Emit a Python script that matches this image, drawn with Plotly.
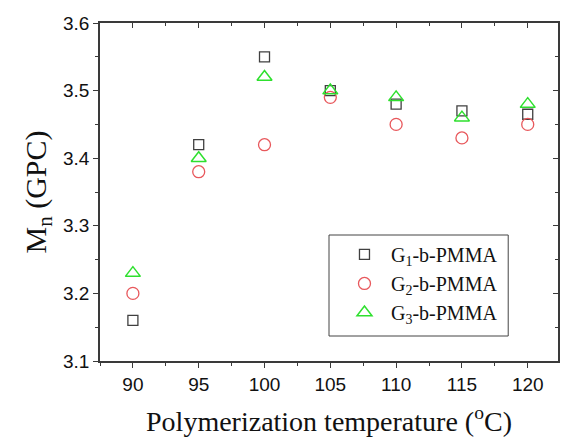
import plotly.graph_objects as go

temps = [90, 95, 100, 105, 110, 115, 120]
g1 = [3.16, 3.42, 3.55, 3.50, 3.48, 3.47, 3.465]
g2 = [3.20, 3.38, 3.42, 3.49, 3.45, 3.43, 3.45]
g3 = [3.23, 3.40, 3.52, 3.50, 3.49, 3.46, 3.48]
names = ["G<sub>1</sub>-b-PMMA", "G<sub>2</sub>-b-PMMA", "G<sub>3</sub>-b-PMMA"]

xr = [87.5, 122.3]
yr = [3.1, 3.6]
axc = "#3a3a3a"

fig = go.Figure()
fig.add_trace(go.Scatter(x=temps, y=g1, mode="markers", name=names[0],
                         marker=dict(symbol="square-open", size=10, color="#404040", line=dict(width=1.3))))
fig.add_trace(go.Scatter(x=temps, y=g2, mode="markers", name=names[1],
                         marker=dict(symbol="circle-open", size=12, color="#e8585c", line=dict(width=1.3))))
fig.add_trace(go.Scatter(x=temps, y=g3, mode="markers", name=names[2],
                         marker=dict(symbol="triangle-up-open", size=13, color="#2ee02e", line=dict(width=1.5))))
# invisible trace to activate the mirrored (inside-tick) axes
fig.add_trace(go.Scatter(x=temps, y=g1, xaxis="x2", yaxis="y2", mode="markers",
                         marker=dict(opacity=0), showlegend=False, hoverinfo="skip"))

tickfont = dict(family="Liberation Sans", size=19, color="#111")
fig.update_layout(
    width=562, height=444,
    margin=dict(l=100, r=2, t=23, b=83),
    paper_bgcolor="white", plot_bgcolor="white",
    showlegend=True,
    legend=dict(x=0.5196, y=0.373, xanchor="left", yanchor="top",
                bgcolor="rgba(0,0,0,0)", borderwidth=0,
                font=dict(family="Liberation Serif", size=20, color="#111"),
                tracegroupgap=0, itemwidth=43),
    shapes=[dict(type="rect", xref="paper", yref="paper",
                 x0=(330 - 100) / 460, x1=(510 - 100) / 460,
                 y0=(361 - 336) / 338, y1=(361 - 235) / 338,
                 line=dict(color="#444", width=1), fillcolor="white", layer="below")],
    xaxis=dict(range=xr, dtick=5, tick0=90, ticks="outside", ticklen=5, tickwidth=1.3,
               tickcolor=axc, showline=True, linecolor=axc, linewidth=1.5, mirror=True,
               showgrid=False, zeroline=False, tickfont=tickfont,
               minor=dict(dtick=2.5, tick0=90, ticks="outside", ticklen=3, tickcolor=axc, tickwidth=1.2, showgrid=False),
               title=dict(text="Polymerization temperature (<sup>o</sup>C)", standoff=18,
                          font=dict(family="Liberation Serif", size=28, color="#111"))),
    yaxis=dict(range=yr, dtick=0.1, tick0=3.1, tickformat=".1f", ticks="outside", ticklen=5, tickwidth=1.3,
               tickcolor=axc, showline=True, linecolor=axc, linewidth=1.5, mirror=True,
               showgrid=False, zeroline=False, tickfont=tickfont,
               minor=dict(dtick=0.05, tick0=3.1, ticks="outside", ticklen=3, tickcolor=axc, tickwidth=1.2, showgrid=False),
               title=dict(text="M<sub>n</sub> (GPC)", standoff=8,
                          font=dict(family="Liberation Serif", size=30, color="#111"))),
    xaxis2=dict(range=xr, overlaying="x", side="top", dtick=5, tick0=90, ticks="inside", ticklen=5,
                tickwidth=1.3, tickcolor=axc, showticklabels=False, showgrid=False, zeroline=False,
                showline=False,
                minor=dict(dtick=2.5, tick0=90, ticks="inside", ticklen=3, tickcolor=axc, tickwidth=1.2, showgrid=False)),
    yaxis2=dict(range=yr, overlaying="y", side="right", dtick=0.1, tick0=3.1, ticks="inside", ticklen=5,
                tickwidth=1.3, tickcolor=axc, showticklabels=False, showgrid=False, zeroline=False,
                showline=False,
                minor=dict(dtick=0.05, tick0=3.1, ticks="inside", ticklen=3, tickcolor=axc, tickwidth=1.2, showgrid=False)),
)

fig.write_html("out.html")
